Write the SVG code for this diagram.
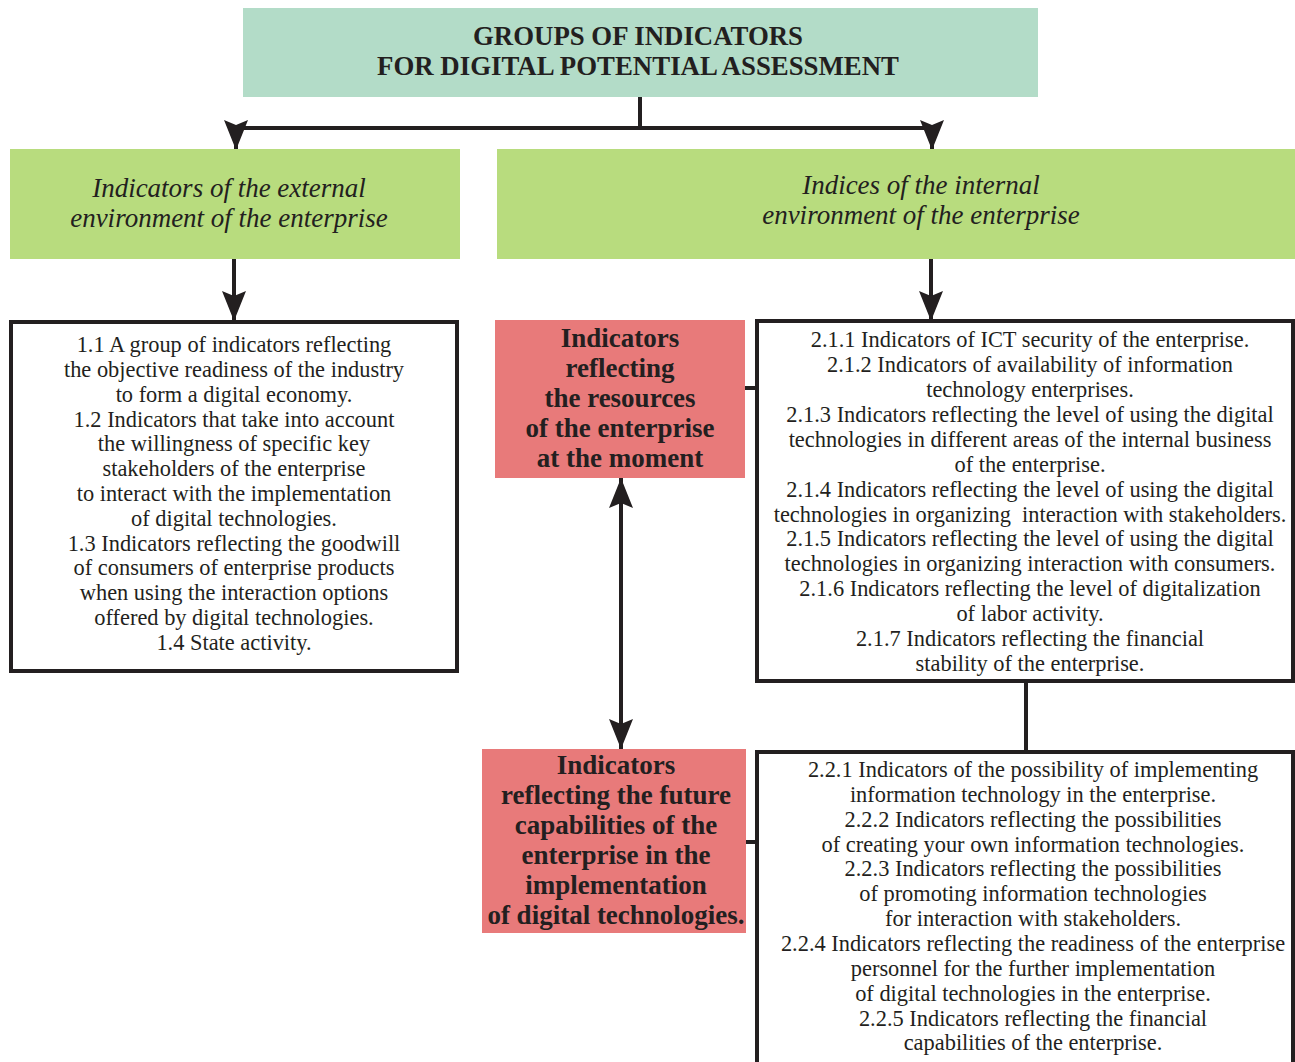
<svg xmlns="http://www.w3.org/2000/svg" width="1295" height="1062" viewBox="0 0 1295 1062">
<defs>
<marker id="ah" viewBox="0 0 15 12" refX="15" refY="6" markerWidth="7.5" markerHeight="6" markerUnits="strokeWidth" orient="auto-start-reverse">
<path d="M0,0 L15,6 L0,12 L2.5,6 z" fill="#231f20"/>
</marker>
<style>
.hdr{fill:#b3dcc8}
.grn{fill:#b8dc7e}
.red{fill:#e87a7a}
.box{fill:#fff;stroke:#231f20;stroke-width:4}
.ln{stroke:#231f20;stroke-width:4;fill:none}
text{font-family:"Liberation Serif","Times New Roman",Times,"DejaVu Serif",serif;fill:#231f20;text-anchor:middle}
.t{font-size:22.4px}
.h{font-size:27px;font-weight:bold}
.i{font-size:27px;font-style:italic}
.b{font-size:27px;font-weight:bold}
</style>
</defs>
<rect width="1295" height="1062" fill="#fff"/>
<g id="connectors">
<path class="ln" d="M640,97 V128"/>
<path class="ln" d="M236,128 H932"/>
<path class="ln" d="M236,126 V150" marker-end="url(#ah)"/>
<path class="ln" d="M932,126 V150" marker-end="url(#ah)"/>
<path class="ln" d="M234,259 V321" marker-end="url(#ah)"/>
<path class="ln" d="M931,259 V321" marker-end="url(#ah)"/>
<path class="ln" d="M621,478 V749" marker-start="url(#ah)" marker-end="url(#ah)"/>
<path class="ln" d="M745,388 H757"/>
<path class="ln" d="M746,842 H757"/>
<path class="ln" d="M1026,681 V750"/>
</g>
<g id="header">
<rect class="hdr" x="243" y="8" width="795" height="89"/>
<text class="h" x="638" y="45" textLength="330" lengthAdjust="spacingAndGlyphs">GROUPS OF INDICATORS</text>
<text class="h" x="638" y="75" textLength="522" lengthAdjust="spacingAndGlyphs">FOR DIGITAL POTENTIAL ASSESSMENT</text>
</g>
<g id="external">
<rect class="grn" x="10" y="149" width="450" height="110"/>
<text class="i" x="229" y="197">Indicators of the external</text>
<text class="i" x="229" y="227">environment of the enterprise</text>
</g>
<g id="internal">
<rect class="grn" x="497" y="149" width="798" height="110"/>
<text class="i" x="921" y="194">Indices of the internal</text>
<text class="i" x="921" y="224">environment of the enterprise</text>
</g>
<g id="ext-list">
<rect class="box" x="11" y="322" width="446" height="349"/>
<text class="t" x="234" y="352">1.1 A group of indicators reflecting</text>
<text class="t" x="234" y="377">the objective readiness of the industry</text>
<text class="t" x="234" y="402">to form a digital economy.</text>
<text class="t" x="234" y="427">1.2 Indicators that take into account</text>
<text class="t" x="234" y="451">the willingness of specific key</text>
<text class="t" x="234" y="476">stakeholders of the enterprise</text>
<text class="t" x="234" y="501">to interact with the implementation</text>
<text class="t" x="234" y="526">of digital technologies.</text>
<text class="t" x="234" y="551">1.3 Indicators reflecting the goodwill</text>
<text class="t" x="234" y="575">of consumers of enterprise products</text>
<text class="t" x="234" y="600">when using the interaction options</text>
<text class="t" x="234" y="625">offered by digital technologies.</text>
<text class="t" x="234" y="650">1.4 State activity.</text>
</g>
<g id="resources">
<rect class="red" x="495" y="320" width="250" height="158"/>
<text class="b" x="620" y="347">Indicators</text>
<text class="b" x="620" y="377">reflecting</text>
<text class="b" x="620" y="407">the resources</text>
<text class="b" x="620" y="437">of the enterprise</text>
<text class="b" x="620" y="467">at the moment</text>
</g>
<g id="int-list-1">
<rect class="box" x="757" y="321" width="536" height="360"/>
<text class="t" x="1030" y="347">2.1.1 Indicators of ICT security of the enterprise.</text>
<text class="t" x="1030" y="372">2.1.2 Indicators of availability of information</text>
<text class="t" x="1030" y="397">technology enterprises.</text>
<text class="t" x="1030" y="422">2.1.3 Indicators reflecting the level of using the digital</text>
<text class="t" x="1030" y="447">technologies in different areas of the internal business</text>
<text class="t" x="1030" y="472">of the enterprise.</text>
<text class="t" x="1030" y="497">2.1.4 Indicators reflecting the level of using the digital</text>
<text class="t" x="1030" y="522" xml:space="preserve">technologies in organizing  interaction with stakeholders.</text>
<text class="t" x="1030" y="546">2.1.5 Indicators reflecting the level of using the digital</text>
<text class="t" x="1030" y="571">technologies in organizing interaction with consumers.</text>
<text class="t" x="1030" y="596">2.1.6 Indicators reflecting the level of digitalization</text>
<text class="t" x="1030" y="621">of labor activity.</text>
<text class="t" x="1030" y="646">2.1.7 Indicators reflecting the financial</text>
<text class="t" x="1030" y="671">stability of the enterprise.</text>
</g>
<g id="future">
<rect class="red" x="482" y="749" width="264" height="184"/>
<text class="b" x="616" y="774">Indicators</text>
<text class="b" x="616" y="804">reflecting the future</text>
<text class="b" x="616" y="834">capabilities of the</text>
<text class="b" x="616" y="864">enterprise in the</text>
<text class="b" x="616" y="894">implementation</text>
<text class="b" x="616" y="924">of digital technologies.</text>
</g>
<g id="int-list-2">
<rect class="box" x="757" y="752" width="536" height="320"/>
<text class="t" x="1033" y="777">2.2.1 Indicators of the possibility of implementing</text>
<text class="t" x="1033" y="802">information technology in the enterprise.</text>
<text class="t" x="1033" y="827">2.2.2 Indicators reflecting the possibilities</text>
<text class="t" x="1033" y="852">of creating your own information technologies.</text>
<text class="t" x="1033" y="876">2.2.3 Indicators reflecting the possibilities</text>
<text class="t" x="1033" y="901">of promoting information technologies</text>
<text class="t" x="1033" y="926">for interaction with stakeholders.</text>
<text class="t" x="1033" y="951">2.2.4 Indicators reflecting the readiness of the enterprise</text>
<text class="t" x="1033" y="976">personnel for the further implementation</text>
<text class="t" x="1033" y="1001">of digital technologies in the enterprise.</text>
<text class="t" x="1033" y="1026">2.2.5 Indicators reflecting the financial</text>
<text class="t" x="1033" y="1050">capabilities of the enterprise.</text>
</g>
</svg>
